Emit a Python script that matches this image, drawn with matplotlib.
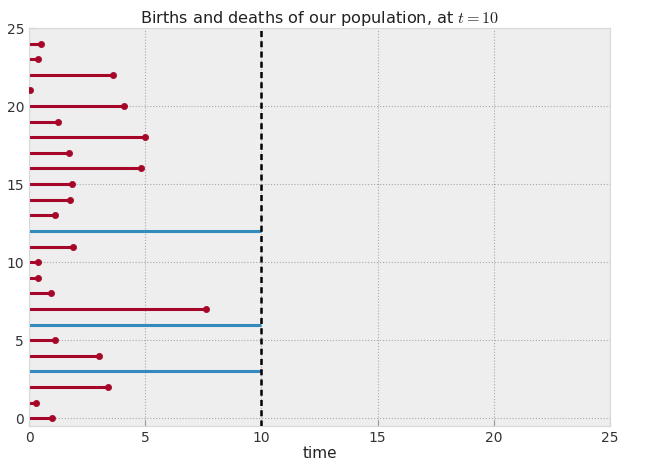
import matplotlib
matplotlib.use("Agg")
import matplotlib.pyplot as plt
import numpy as np

plt.style.use("bmh")
plt.rcParams.update({
    "axes.edgecolor": "#d8d8d8",
    "grid.linestyle": ":",
    "grid.color": "#a8a8a8",
    "grid.linewidth": 0.8,
    "xtick.direction": "in",
    "ytick.direction": "in",
    "xtick.color": "#999999",
    "ytick.color": "#999999",
    "xtick.labelcolor": "#333333",
    "ytick.labelcolor": "#333333",
    "xtick.labelsize": 10,
    "ytick.labelsize": 10,
})

current_time = 10
births = [0] * 25
lifetimes = [1.0, 0.3, 3.4, 10, 3.0, 1.12, 10, 7.6, 0.95, 0.37, 0.39, 1.9, 10,
             1.12, 1.75, 1.85, 4.83, 1.7, 5.0, 1.25, 4.1, 0.03, 3.62, 0.37, 0.52]
censored = [False, False, False, True, False, False, True, False, False, False,
            False, False, True, False, False, False, False, False, False, False,
            False, False, False, False, False]

fig = plt.figure(figsize=(6.47, 4.70), dpi=100)
ax = fig.add_axes([29 / 647, 1 - 426 / 470, (610 - 29) / 647, (426 - 28) / 470])

N = len(lifetimes)
for i in range(N):
    if censored[i]:
        ax.hlines(i, births[i], min(lifetimes[i], current_time), color="#348ABD", lw=2.2)
    else:
        ax.hlines(i, births[i], lifetimes[i], color="#A60628", lw=2.2)
        ax.scatter(lifetimes[i], i, color="#A60628", s=20, zorder=3)

ax.axvline(current_time, color="black", lw=1.8, dashes=(2.4, 1.7))
ax.set_xlim(0, 25)
ax.set_ylim(-0.5, 25)
ax.set_xticks([0, 5, 10, 15, 20, 25])
ax.set_yticks([0, 5, 10, 15, 20, 25])
ax.tick_params(length=4, width=0.8)
ax.set_title("Births and deaths of our population, at $t=10$", fontsize=11.6, color="#222222", pad=3)
ax.set_xlabel("time", fontsize=11, color="#222222", labelpad=1)

fig.savefig("out.png", dpi=100)
